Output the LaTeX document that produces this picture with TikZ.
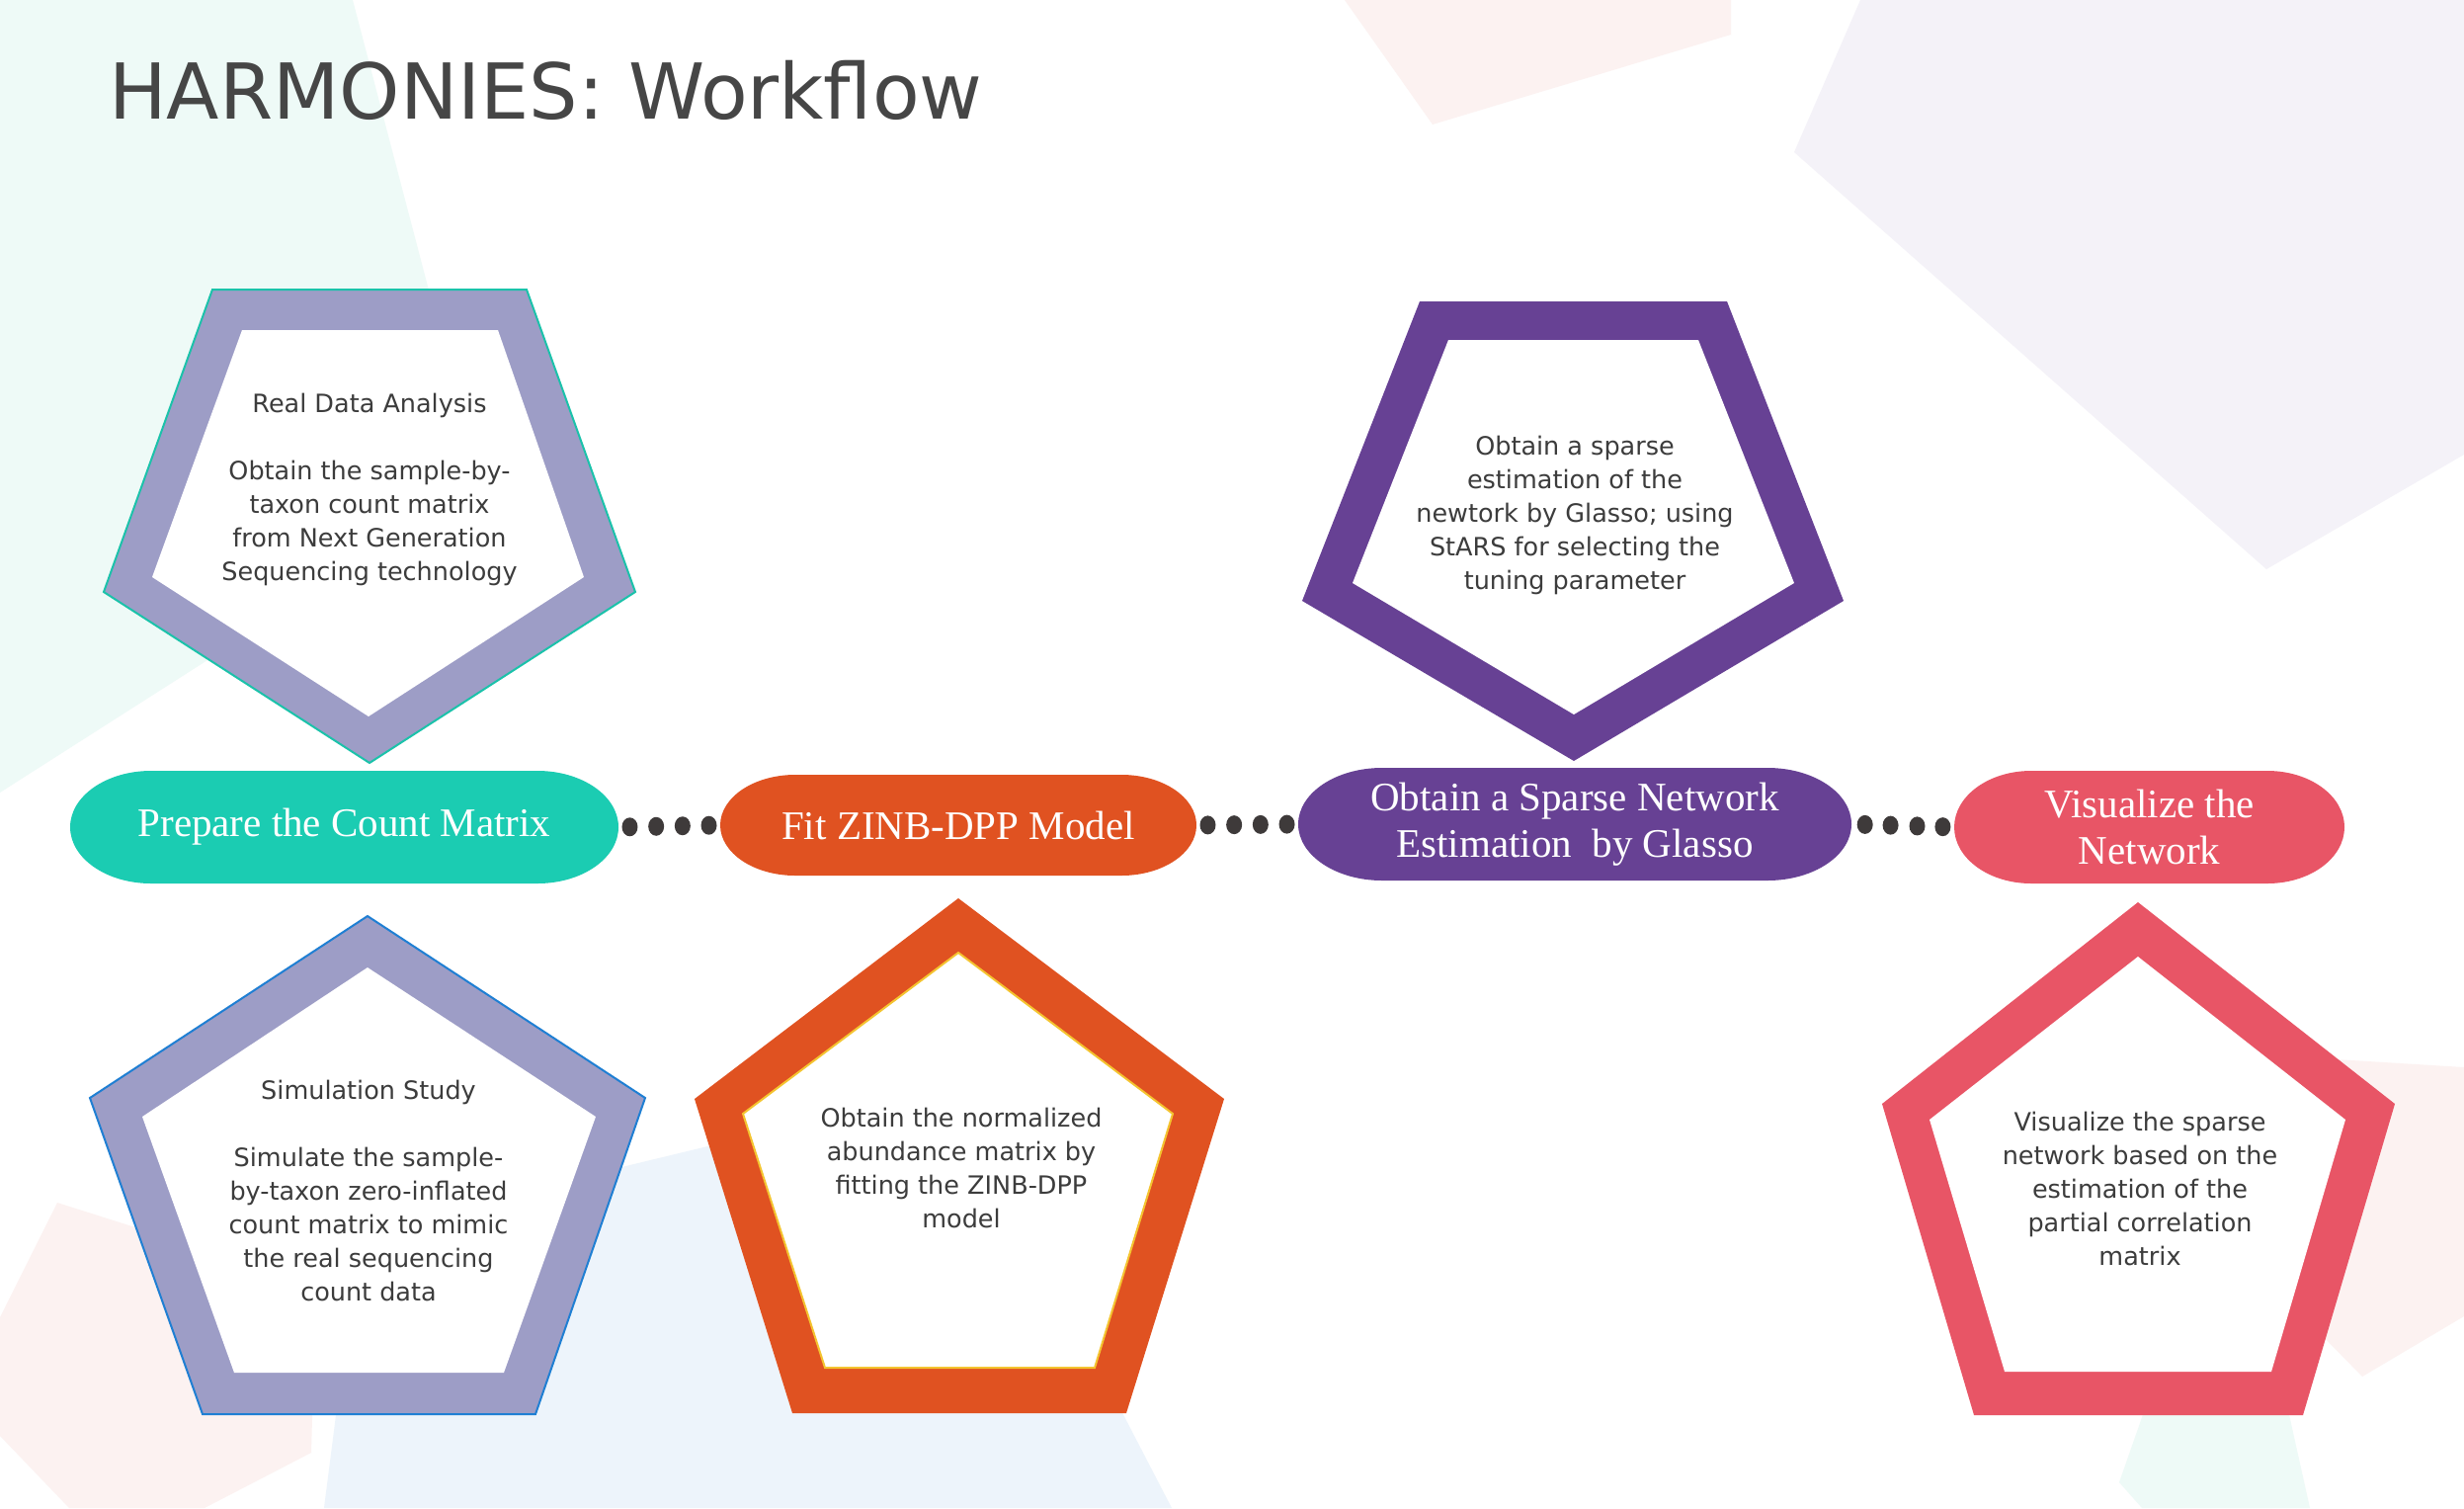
\documentclass[tikz,border=0pt]{standalone}
\usepackage{fontspec}
\setmainfont{DejaVu Sans}
\newfontfamily\pillfont{Liberation Serif}
\usetikzlibrary{shapes.geometric}

% palette
\definecolor{mintbg}{HTML}{EEFAF7}
\definecolor{pinkbg}{HTML}{FCF2F1}
\definecolor{lavbg}{HTML}{F4F2F8}
\definecolor{bluebg}{HTML}{EDF4FB}
\definecolor{lavband}{HTML}{9D9DC6}
\definecolor{tealpill}{HTML}{1BCCB2}
\definecolor{orangepill}{HTML}{E05221}
\definecolor{purplepill}{HTML}{674194}
\definecolor{pinkpill}{HTML}{E85566}
\definecolor{tealline}{HTML}{1BC2AA}
\definecolor{blueline}{HTML}{1F7FD3}
\definecolor{yellowline}{HTML}{F4C430}
\definecolor{dotcol}{HTML}{3E3A3A}
\definecolor{bodytext}{HTML}{3C3C3C}
\definecolor{titlecol}{HTML}{464646}

\begin{document}
\begin{tikzpicture}[x=1pt, y=-1pt,
  ptext/.style={align=center, text=bodytext, inner sep=0pt,
    font=\fontsize{25.5}{34}\selectfont},
  linkdot/.style={ellipse, fill=dotcol, minimum width=16pt,
    minimum height=19pt, inner sep=0pt},
  pill/.style n args={3}{rectangle, inner sep=0pt, align=center, text=white,
    font=\pillfont\fontsize{41}{47}\selectfont,
    path picture={\fill[#1]
      ([xshift=#2]path picture bounding box.north west) --
      ([xshift=-#2]path picture bounding box.north east)
      arc[start angle=90, end angle=-90, x radius=#2, y radius=#3] --
      ([xshift=#2]path picture bounding box.south west)
      arc[start angle=270, end angle=90, x radius=#2, y radius=#3] -- cycle;}}
]
% canvas
\fill[white] (0,0) rectangle (2494,1526);
\useasboundingbox (0,0) rectangle (2494,1526);

% faint background facets
\fill[mintbg] (0,0) -- (357,0) -- (486,492) -- (0,802) -- cycle;
\fill[pinkbg] (1361,0) -- (1752,0) -- (1752,35) -- (1450,126) -- cycle;
\fill[lavbg] (1883,0) -- (2494,0) -- (2494,460) -- (2294,576) -- (1816,154) -- cycle;
\fill[pinkbg] (58,1217) -- (320,1300) -- (315,1470) -- (207,1526) -- (70,1526)
  -- (0,1453) -- (0,1333) -- cycle;
\fill[bluebg] (364,1245) -- (965,1100) -- (1186,1526) -- (328,1526) -- cycle;
\fill[pinkbg] (2250,1065) -- (2494,1080) -- (2494,1332) -- (2391,1393) -- (2300,1300) -- cycle;
\fill[mintbg] (2180,1400) -- (2310,1400) -- (2338,1526) -- (2168,1526) -- (2145,1500) -- cycle;

% pentagon frames
\filldraw[fill=lavband, draw=tealline, line width=2pt]
  (215,293) -- (533,293) -- (643,599) -- (374,772) -- (105,599) -- cycle;
\fill[white] (245,334) -- (504,334) -- (591,584) -- (373,725) -- (154,584) -- cycle;

\filldraw[fill=lavband, draw=blueline, line width=2pt]
  (372,927) -- (653,1111) -- (542,1431) -- (205,1431) -- (91,1111) -- cycle;
\fill[white] (372,979) -- (603,1130) -- (510,1389) -- (237,1389) -- (144,1130) -- cycle;

\fill[orangepill]
  (970,909) -- (1239,1112) -- (1140,1430) -- (802,1430) -- (703,1112) -- cycle;
\filldraw[fill=white, draw=yellowline, line width=2pt]
  (970,964) -- (1187,1127) -- (1108,1384) -- (835,1384) -- (752,1127) -- cycle;

\fill[purplepill]
  (1437,305) -- (1748,305) -- (1866,608) -- (1593,770) -- (1318,608) -- cycle;
\fill[white] (1466,344) -- (1719,344) -- (1816,590) -- (1593,723) -- (1369,590) -- cycle;

\fill[pinkpill]
  (2164,913) -- (2424,1117) -- (2331,1432) -- (1998,1432) -- (1905,1117) -- cycle;
\fill[white] (2164,968) -- (2374,1133) -- (2299,1388) -- (2029,1388) -- (1953,1133) -- cycle;

% title
\node[anchor=base west, inner sep=0pt, text=titlecol,
  font=\fontsize{78}{90}\selectfont] (title) at (110,120) {HARMONIES: Workflow};

% workflow steps
\node[pill={tealpill}{82pt}{57pt}, minimum width=555pt, minimum height=114pt]
  (prep) at (348.5,837) {Prepare the Count Matrix};
\node[pill={orangepill}{76pt}{51pt}, minimum width=482pt, minimum height=102pt]
  (fit) at (970,835) {Fit ZINB-DPP Model};
\node[pill={purplepill}{85pt}{57pt}, minimum width=560pt, minimum height=114pt]
  (glasso) at (1594,834) {Obtain a Sparse Network\\Estimation\ \ by Glasso};
\node[pill={pinkpill}{78pt}{57pt}, minimum width=395pt, minimum height=114pt]
  (vis) at (2175.5,837) {Visualize the\\Network};

% dotted links between steps
\path (prep.east) -- (fit.west)
  node[linkdot, pos=.11] (d11) {} node[linkdot, pos=.37] (d12) {}
  node[linkdot, pos=.63] (d13) {} node[linkdot, pos=.89] (d14) {};
\path (fit.east) -- (glasso.west)
  node[linkdot, pos=.11] (d21) {} node[linkdot, pos=.37] (d22) {}
  node[linkdot, pos=.63] (d23) {} node[linkdot, pos=.89] (d24) {};
\path (glasso.east) -- (vis.west)
  node[linkdot, pos=.13] (d31) {} node[linkdot, pos=.38] (d32) {}
  node[linkdot, pos=.64] (d33) {} node[linkdot, pos=.89] (d34) {};

% descriptions
\node[ptext] (real) at (374,495) {Real Data Analysis\\[34pt]Obtain the sample-by-\\taxon count matrix\\from Next Generation\\Sequencing technology};
\node[ptext] (sim) at (373,1205) {Simulation Study\\[34pt]Simulate the sample-\\by-taxon zero-inflated\\count matrix to mimic\\the real sequencing\\count data};
\node[ptext] (norm) at (973,1182) {Obtain the normalized\\abundance matrix by\\fitting the ZINB-DPP\\model};
\node[ptext] (sparse) at (1594,521) {Obtain a sparse\\estimation of the\\newtork by Glasso; using\\StARS for selecting the\\tuning parameter};
\node[ptext] (visdesc) at (2166,1203) {Visualize the sparse\\network based on the\\estimation of the\\partial correlation\\matrix};
\end{tikzpicture}
\end{document}
